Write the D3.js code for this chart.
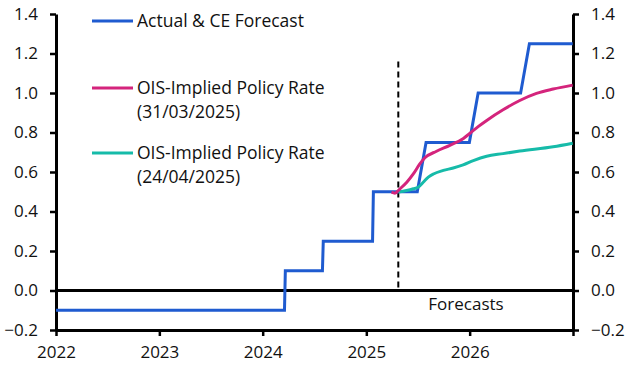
<!DOCTYPE html>
<html>
<head>
<meta charset="utf-8">
<script src="https://cdn.jsdelivr.net/npm/d3@7"></script>
<style>
  body { margin: 0; background: #fff; }
  text { font-family: "Open Sans", sans-serif; fill: #111; }
</style>
</head>
<body>
<div id="chart"></div>
<script>
// CE forecast (actual policy rate, then forecast steps)
var blueDates = ["2022-01-01", "2024-03-18", "2024-03-21", "2024-07-30", "2024-08-02", "2025-01-23", "2025-01-26",
    "2025-06-30", "2025-07-31", "2025-12-31", "2026-01-31", "2026-06-30", "2026-07-31", "2026-12-31"];
var blueValues = [-0.1, -0.1, 0.1, 0.1, 0.25, 0.25, 0.5, 0.5, 0.75, 0.75, 1.0, 1.0, 1.25, 1.25];

// OIS-implied policy rate, 31/03/2025
var pinkDates = ["2025-03-31", "2025-04-12", "2025-04-30", "2025-05-24", "2025-06-16", "2025-07-09", "2025-07-27",
    "2025-09-06", "2025-10-23", "2025-12-10", "2026-01-01", "2026-01-31", "2026-03-01", "2026-04-29", "2026-06-27",
    "2026-08-25", "2026-10-23", "2026-12-31"];
var pinkValues = [0.498, 0.493, 0.515, 0.548, 0.59, 0.641, 0.672, 0.705, 0.735, 0.77, 0.795, 0.83, 0.86, 0.915, 0.962,
    0.998, 1.02, 1.04];

// OIS-implied policy rate, 24/04/2025
var tealDates = ["2025-04-24", "2025-05-23", "2025-06-16", "2025-07-03", "2025-07-21", "2025-08-08", "2025-08-26",
    "2025-09-30", "2025-11-04", "2025-12-09", "2026-01-14", "2026-03-02", "2026-04-29", "2026-06-27", "2026-10-23",
    "2026-12-31"];
var tealValues = [0.498, 0.506, 0.515, 0.523, 0.548, 0.574, 0.59, 0.608, 0.62, 0.636, 0.658, 0.68, 0.693, 0.706,
    0.728, 0.746];

var yTicks = [-0.2, 0.0, 0.2, 0.4, 0.6, 0.8, 1.0, 1.2, 1.4];
var xTickYears = ["2022", "2023", "2024", "2025", "2026", "2027"];
var forecastDate = "2025-04-24";
var forecastTop = 1.16;

var legendItems = [
    {name: ["Actual & CE Forecast"], color: "#1f5bd0"},
    {name: ["OIS-Implied Policy Rate", "(31/03/2025)"], color: "#d4247c"},
    {name: ["OIS-Implied Policy Rate", "(24/04/2025)"], color: "#16bba9"}
];

var width = 630, height = 369;
var mLeft = 56, mRight = 573, mTop = 14, mBottom = 330;
var fontSize = "17px";
var parse = d3.timeParse("%Y-%m-%d");

var x = d3.scaleTime()
    .domain([new Date(2022, 0, 1), new Date(2027, 0, 1)])
    .range([mLeft, mRight]);
var y = d3.scaleLinear()
    .domain([-0.2, 1.4])
    .range([mBottom, mTop]);

var svg = d3.select("#chart").append("svg")
    .attr("width", width)
    .attr("height", height);

// axes
var fmt = d3.format(".1f");
var yLeft = d3.axisLeft(y).tickValues(yTicks).tickFormat(fmt).tickSize(6).tickPadding(12);
var yRight = d3.axisRight(y).tickValues(yTicks).tickFormat(fmt).tickSize(6).tickPadding(12);
var xTicks = xTickYears.map(function (t) { return new Date(+t, 0, 1); });
var xAxis = d3.axisBottom(x).tickValues(xTicks)
    .tickFormat(function (d) { return d.getFullYear() < 2027 ? d.getFullYear() : ""; })
    .tickSize(6).tickPadding(10);

function styleAxis(g) {
    g.select(".domain").attr("stroke", "#000").attr("stroke-width", 3);
    g.selectAll(".tick line").attr("stroke", "#000").attr("stroke-width", 2.5);
    g.selectAll(".tick text").style("font-family", "'Open Sans', sans-serif").style("font-size", fontSize).attr("fill", "#111");
}

svg.append("g").attr("transform", "translate(" + mLeft + ",0)").call(yLeft.tickSizeOuter(0)).call(styleAxis);
svg.append("g").attr("transform", "translate(" + mRight + ",0)").call(yRight.tickSizeOuter(0)).call(styleAxis);
svg.append("g").attr("transform", "translate(0," + mBottom + ")").call(xAxis.tickSizeOuter(0)).call(styleAxis);

// zero line
svg.append("line")
    .attr("x1", mLeft).attr("x2", mRight)
    .attr("y1", y(0)).attr("y2", y(0))
    .attr("stroke", "#000").attr("stroke-width", 3);

// forecast marker
svg.append("line")
    .attr("x1", x(parse(forecastDate))).attr("x2", x(parse(forecastDate)))
    .attr("y1", y(forecastTop)).attr("y2", y(0))
    .attr("stroke", "#000").attr("stroke-width", 2)
    .attr("stroke-dasharray", "6,4");

svg.append("text")
    .attr("x", 466).attr("y", 310)
    .attr("text-anchor", "middle")
    .style("font-size", fontSize)
    .text("Forecasts");

// series
function series(dates, values) {
    return dates.map(function (d, i) { return {date: parse(d), value: values[i]}; });
}
var linear = d3.line().x(function (d) { return x(d.date); }).y(function (d) { return y(d.value); });
var smooth = d3.line().curve(d3.curveMonotoneX).x(function (d) { return x(d.date); }).y(function (d) { return y(d.value); });

svg.append("path").datum(series(blueDates, blueValues))
    .attr("d", linear).attr("fill", "none")
    .attr("stroke", legendItems[0].color).attr("stroke-width", 3);
svg.append("path").datum(series(tealDates, tealValues))
    .attr("d", smooth).attr("fill", "none")
    .attr("stroke", legendItems[2].color).attr("stroke-width", 3);
svg.append("path").datum(series(pinkDates, pinkValues))
    .attr("d", smooth).attr("fill", "none")
    .attr("stroke", legendItems[1].color).attr("stroke-width", 3);

// legend
var legendY = [27, 94, 159];
legendItems.forEach(function (item, i) {
    svg.append("line")
        .attr("x1", 92).attr("x2", 133)
        .attr("y1", legendY[i] - 6).attr("y2", legendY[i] - 6)
        .attr("stroke", item.color).attr("stroke-width", 3);
    item.name.forEach(function (line, j) {
        svg.append("text")
            .attr("x", 137).attr("y", legendY[i] + j * 24)
            .style("font-size", "17.5px")
            .text(line);
    });
});
</script>
</body>
</html>
